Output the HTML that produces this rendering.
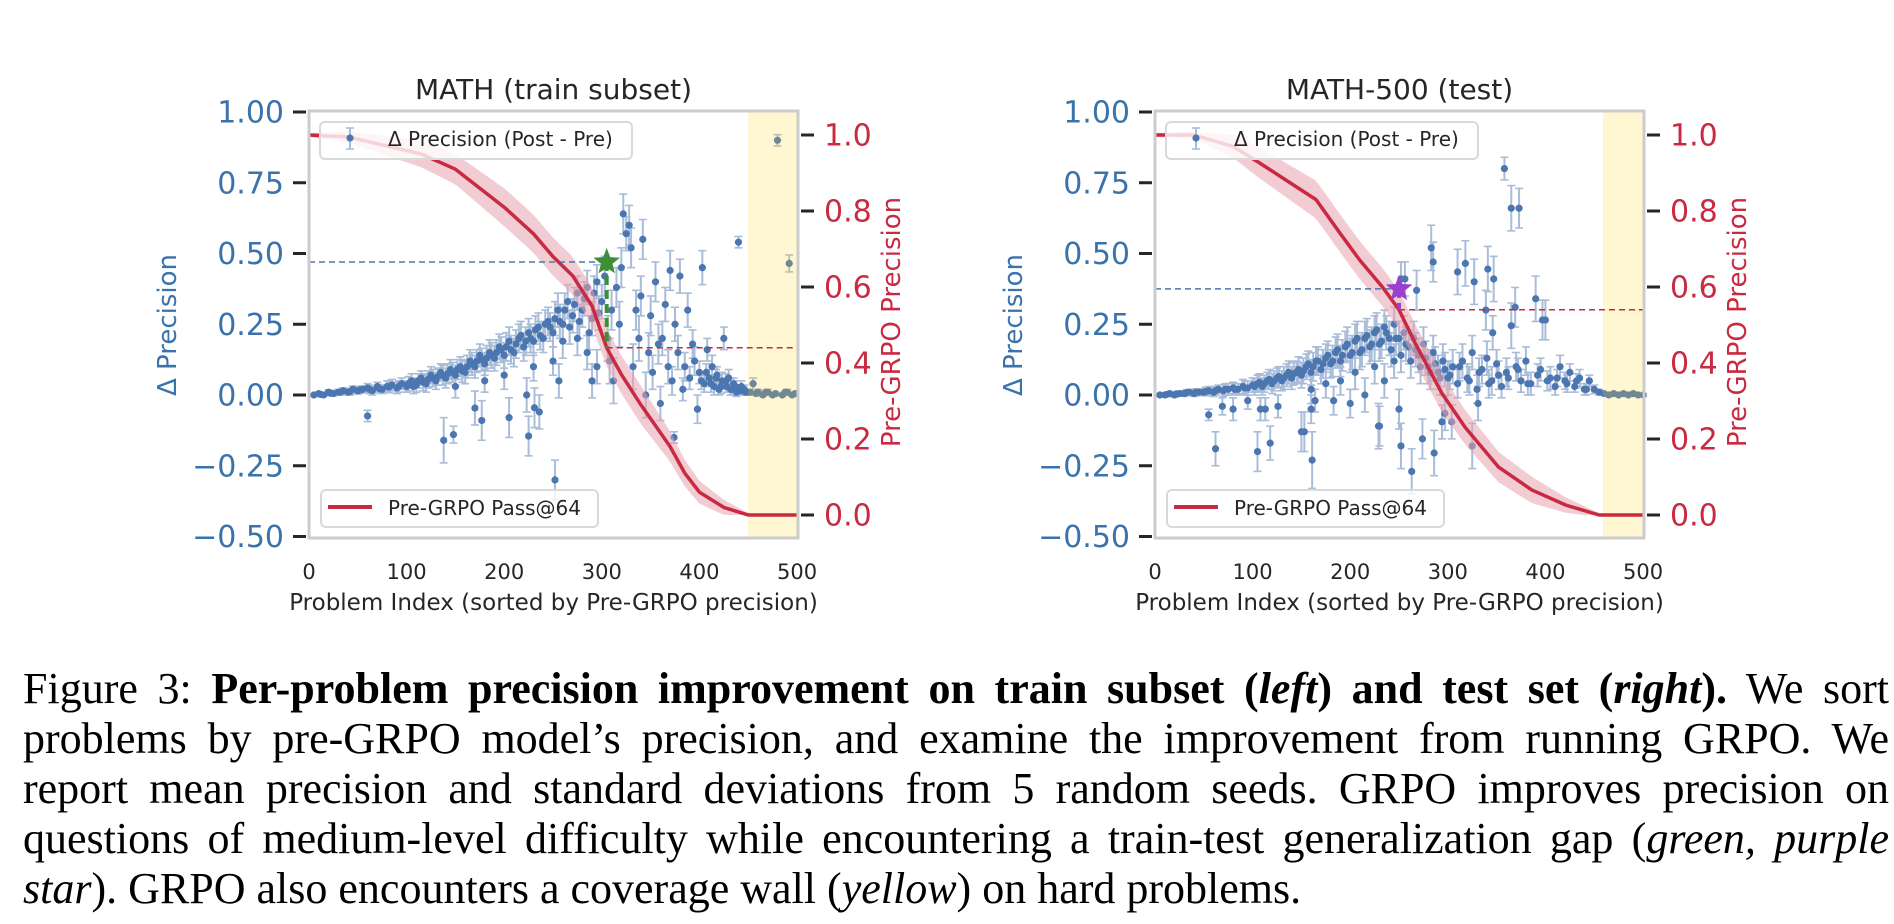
<!DOCTYPE html>
<html><head><meta charset="utf-8">
<style>
html,body{margin:0;padding:0;background:#fff;}
#wrap{position:relative;width:1894px;height:924px;overflow:hidden;background:#fff;}
svg text{font-family:"DejaVu Sans","Liberation Sans",sans-serif;}
.cap{position:absolute;left:23px;width:1866px;font-family:"Liberation Serif",serif;font-size:44px;line-height:50px;color:#000;text-align:justify;text-align-last:justify;white-space:nowrap;}
.cap.last{text-align-last:left;}
</style></head><body>
<div id="wrap">
<svg id="svg" width="1894" height="660" viewBox="0 0 1894 660" style="position:absolute;left:0;top:0"></svg>
<div class="cap" style="top:664px">Figure 3: <b>Per-problem precision improvement on train subset (<i>left</i>) and test set (<i>right</i>).</b> We sort</div>
<div class="cap" style="top:714px">problems by pre-GRPO model’s precision, and examine the improvement from running GRPO. We</div>
<div class="cap" style="top:764px">report mean precision and standard deviations from 5 random seeds. GRPO improves precision on</div>
<div class="cap" style="top:814px">questions of medium-level difficulty while encountering a train-test generalization gap (<i>green, purple</i></div>
<div class="cap last" style="top:864px"><i>star</i>). GRPO also encounters a coverage wall (<i>yellow</i>) on hard problems.</div>
</div>
<script>
// ---------- data: left (train) ----------
const trainIdx = [5,10,15,20,25,30,35,40,45,50,55,60,65,70,75,80,85,90,95,100,
105,110,115,120,125,130,135,140,145,150,155,160,165,170,175,180,185,190,195,200,
205,210,215,220,225,230,235,240,245,250,255,260,265,270,275,280,285,290,295,300,
150,180,200,230,250,260,275,285,295,290,
60,138,148,170,177,205,223,225,231,236,252,256,
303,306,308,310,312,315,318,320,322,325,328,330,332,335,338,340,342,345,348,350,352,355,358,360,
362,365,368,370,372,375,378,380,383,385,388,390,393,395,398,400,403,405,408,410,413,415,418,420,423,425,428,430,433,435,438,440,443,446,449,374,
455,460,465,470,475,480,485,490,492,495,452,458,468,478,488,498,
102,107,112,117,122,127,132,137,142,147,152,157,162,167,172,177,182,187,192,197,
202,207,212,217,222,227,232,237,242,247,252,257,262,267,272,277,282,287,292,297,
12,22,32,42,52,62,72,82,92,
402,407,412,417,422,427,432,437,442,447];
const trainVal = [0,0.005,0,0.01,0.005,0.01,0.015,0.01,0.02,0.015,0.02,0.025,0.015,0.03,0.02,0.03,0.035,0.025,0.04,0.03,
0.05,0.035,0.06,0.04,0.07,0.05,0.08,0.06,0.09,0.07,0.1,0.08,0.12,0.1,0.14,0.11,0.15,0.13,0.17,0.14,
0.19,0.15,0.2,0.17,0.22,0.19,0.24,0.2,0.26,0.22,0.3,0.25,0.33,0.28,0.36,0.3,0.38,0.27,0.4,0.33,
0.03,0.05,0.07,0.1,0.12,0.19,0.2,0.15,0.1,0.05,
-0.074,-0.16,-0.14,-0.046,-0.09,-0.08,0,-0.145,-0.045,-0.06,-0.3,0.05,
0.42,0.2,0.12,0.3,0.05,0.38,0.25,0.45,0.64,0.57,0.6,0.52,0.1,0.3,0.2,0.35,0.55,0,0.15,0.28,0.08,0.4,0.18,-0.03,
0.2,0.32,0.1,0.44,0.05,0.25,0.15,0.42,0.02,0.1,0.3,0.06,0.18,0.12,-0.05,0.08,0.45,0.04,0.16,0.06,0.1,0.03,0.07,0.02,0.05,0.2,0.03,0.06,0.02,0.04,0.01,0.54,0.03,0.02,0.01,-0.15,
0.04,0.01,0,0.01,0,0.9,0,0.01,0.465,0,0.01,0.005,0.01,0.005,0.01,0.005,
0.04,0.03,0.05,0.045,0.055,0.06,0.065,0.07,0.075,0.08,0.09,0.085,0.1,0.11,0.12,0.125,0.13,0.14,0.15,0.16,
0.17,0.16,0.18,0.21,0.19,0.2,0.23,0.21,0.25,0.24,0.27,0.26,0.3,0.24,0.32,0.26,0.34,0.22,0.36,0.29,
0.002,0.006,0.01,0.012,0.018,0.02,0.022,0.028,0.03,
0.05,0.08,0.04,0.06,0.03,0.05,0.02,0.03,0.015,0.01];
const trainErr = [0.005,0.005,0.005,0.008,0.008,0.01,0.01,0.01,0.012,0.012,0.012,0.015,0.015,0.015,0.015,0.02,0.02,0.02,0.02,0.02,
0.025,0.025,0.025,0.03,0.03,0.03,0.03,0.035,0.035,0.035,0.035,0.04,0.04,0.04,0.04,0.04,0.045,0.045,0.045,0.045,
0.05,0.05,0.05,0.05,0.05,0.05,0.05,0.05,0.05,0.05,0.06,0.06,0.06,0.06,0.06,0.06,0.06,0.06,0.06,0.06,
0.04,0.04,0.05,0.05,0.05,0.06,0.06,0.06,0.06,0.06,
0.02,0.08,0.03,0.06,0.07,0.07,0.06,0.07,0.07,0.06,0.07,0.06,
0.07,0.08,0.08,0.07,0.08,0.07,0.08,0.07,0.07,0.06,0.07,0.07,0.08,0.07,0.08,0.07,0.07,0.08,0.07,0.07,0.06,0.07,0.07,0.06,
0.06,0.06,0.06,0.07,0.05,0.06,0.06,0.06,0.04,0.05,0.06,0.04,0.05,0.05,0.05,0.04,0.06,0.03,0.04,0.03,0.04,0.03,0.03,0.02,0.03,0.04,0.02,0.03,0.02,0.02,0.015,0.02,0.02,0.015,0.01,0.02,
0.02,0.01,0.005,0.01,0.005,0.02,0.005,0.01,0.03,0.005,0.01,0.005,0.005,0.005,0.005,0.005,
0.025,0.025,0.025,0.03,0.03,0.03,0.03,0.035,0.035,0.035,0.035,0.04,0.04,0.04,0.04,0.04,0.045,0.045,0.045,0.045,
0.05,0.05,0.05,0.05,0.05,0.05,0.05,0.05,0.05,0.05,0.06,0.06,0.06,0.06,0.06,0.06,0.06,0.06,0.06,0.06,
0.005,0.008,0.01,0.012,0.012,0.015,0.015,0.02,0.02,
0.03,0.03,0.03,0.03,0.025,0.025,0.02,0.02,0.015,0.01];
const trainCurveIdx = [0,40,115,150,175,200,230,250,270,290,305,320,340,370,385,400,425,450,500];
const trainCurveVal = [1.0,0.995,0.95,0.91,0.86,0.81,0.74,0.68,0.63,0.55,0.44,0.37,0.29,0.18,0.11,0.06,0.02,0.0,0.0];
const trainCurveStd = [0.005,0.015,0.035,0.04,0.045,0.05,0.05,0.05,0.05,0.05,0.05,0.05,0.05,0.04,0.035,0.03,0.02,0.005,0];
const trainStar = [305, 0.47];
const trainWall = 450;

// ---------- data: right (test) ----------
const testIdx = [5,10,15,20,25,30,35,40,45,50,55,60,65,70,75,80,85,90,95,100,
105,110,115,120,125,130,135,140,145,150,155,160,165,170,175,180,185,190,195,200,
205,210,215,220,225,230,235,240,245,250,255,260,265,270,275,280,285,290,295,300,
160,175,190,205,215,225,235,245,
55,62,69,80,95,108,113,118,105,126,153,160,164,183,200,230,161,150,229,252,263,274,286,250,325,294,304,297,331,
283,285,310,318,327,341,347,365,369,390,397,400,365,339,346,252,256,268,358,373,
305,310,315,320,325,330,335,340,345,350,355,360,370,375,380,385,395,405,410,415,420,425,430,435,440,445,450,455,
460,465,470,475,480,485,490,495,500,
102,107,112,117,122,127,132,137,142,147,152,157,162,167,172,177,182,187,192,197,
202,207,212,217,222,227,232,237,242,247,252,257,262,267,272,277,282,287,292,297,
302,312,322,332,342,352,362,372,382,392,402,412,422,432,442,
12,22,32,42,52,62,72,82,92];
const testVal = [0,0,0.005,0,0.005,0.005,0.01,0.005,0.01,0.01,0.015,0.01,0.02,0.015,0.02,0.025,0.02,0.03,0.025,0.035,
0.04,0.03,0.05,0.04,0.06,0.05,0.07,0.06,0.08,0.07,0.1,0.08,0.12,0.09,0.13,0.11,0.15,0.12,0.17,0.14,
0.19,0.15,0.2,0.17,0.22,0.18,0.24,0.2,0.25,0.2,0.22,0.17,0.2,0.14,0.18,0.1,0.15,0.08,0.12,0.06,
0.02,0.04,0.05,0.08,0.0,0.1,0.05,0.12,
-0.07,-0.19,-0.04,-0.05,-0.02,-0.05,-0.05,-0.17,-0.2,-0.04,-0.13,-0.05,-0.02,-0.02,-0.03,-0.11,-0.23,-0.13,-0.11,-0.18,-0.27,-0.155,-0.205,-0.05,-0.18,-0.095,-0.095,-0.065,-0.03,
0.52,0.47,0.435,0.465,0.4,0.445,0.41,0.66,0.31,0.34,0.265,0.265,0.245,0.3,0.22,0.41,0.41,0.37,0.8,0.66,
0.1,0.04,0.12,0.06,0.15,0.02,0.09,0.13,0.05,0.11,0.03,0.08,0.1,0.05,0.12,0.04,0.09,0.06,0.03,0.1,0.05,0.08,0.03,0.06,0.02,0.05,0.02,0.01,
0.005,0,0.005,0,0.005,0,0.005,0,0,
0.03,0.045,0.04,0.055,0.05,0.065,0.06,0.08,0.075,0.09,0.085,0.11,0.1,0.12,0.11,0.14,0.12,0.16,0.14,0.18,
0.15,0.2,0.16,0.21,0.18,0.23,0.19,0.22,0.16,0.2,0.14,0.18,0.12,0.16,0.1,0.13,0.08,0.11,0.06,0.09,
0.07,0.1,0.05,0.08,0.04,0.07,0.06,0.09,0.04,0.07,0.05,0.06,0.04,0.05,0.02,
0.002,0.004,0.008,0.01,0.012,0.015,0.02,0.02,0.025];
const testErr = [0.005,0.005,0.005,0.008,0.008,0.01,0.01,0.01,0.012,0.012,0.015,0.015,0.015,0.02,0.02,0.02,0.02,0.025,0.025,0.025,
0.03,0.03,0.03,0.035,0.035,0.035,0.04,0.04,0.04,0.045,0.045,0.045,0.05,0.05,0.05,0.05,0.055,0.055,0.055,0.06,
0.06,0.06,0.06,0.06,0.06,0.06,0.06,0.06,0.06,0.06,0.06,0.06,0.06,0.06,0.06,0.06,0.06,0.06,0.06,0.06,
0.05,0.05,0.05,0.06,0.06,0.06,0.06,0.06,
0.02,0.06,0.03,0.04,0.03,0.04,0.04,0.06,0.07,0.04,0.07,0.05,0.04,0.05,0.05,0.07,0.1,0.07,0.08,0.08,0.08,0.07,0.08,0.07,0.08,0.06,0.06,0.06,0.06,
0.08,0.07,0.08,0.08,0.08,0.08,0.08,0.08,0.07,0.08,0.07,0.07,0.08,0.07,0.06,0.06,0.06,0.07,0.04,0.07,
0.06,0.05,0.06,0.05,0.06,0.05,0.05,0.06,0.05,0.05,0.04,0.05,0.05,0.04,0.05,0.04,0.04,0.04,0.03,0.04,0.03,0.03,0.02,0.03,0.02,0.02,0.015,0.01,
0.005,0.005,0.005,0.005,0.005,0.005,0.005,0.005,0.005,
0.03,0.03,0.03,0.035,0.035,0.035,0.04,0.04,0.04,0.045,0.045,0.045,0.05,0.05,0.05,0.05,0.055,0.055,0.055,0.06,
0.06,0.06,0.06,0.06,0.06,0.06,0.06,0.06,0.06,0.06,0.06,0.06,0.06,0.06,0.06,0.06,0.06,0.06,0.06,0.06,
0.05,0.05,0.05,0.05,0.05,0.05,0.04,0.04,0.04,0.04,0.035,0.03,0.03,0.025,0.02,
0.005,0.008,0.01,0.012,0.015,0.015,0.02,0.02,0.025];
const testCurveIdx = [0,40,80,105,135,165,190,210,233,250,267,294,318,352,386,421,455,500];
const testCurveVal = [1.0,1.0,0.97,0.93,0.88,0.83,0.74,0.67,0.6,0.54,0.45,0.32,0.23,0.126,0.066,0.026,0.0,0.0];
const testCurveStd = [0.005,0.01,0.03,0.04,0.045,0.05,0.05,0.05,0.05,0.05,0.05,0.05,0.045,0.04,0.035,0.02,0.005,0];
const testStar = [250, 0.375];
const testWall = 459;

const leftTicks = [1.0,0.75,0.5,0.25,0.0,-0.25,-0.5];
const leftTickLabels = ["1.00","0.75","0.50","0.25","0.00","\u22120.25","\u22120.50"];
const rightTicks = [1.0,0.8,0.6,0.4,0.2,0.0];
const rightTickLabels = ["1.0","0.8","0.6","0.4","0.2","0.0"];
const xTicks = [0,100,200,300,400,500];

// ---------- drawing ----------
const NS="http://www.w3.org/2000/svg";
const svg=document.getElementById('svg');
function mk(tag,attrs,parent){const e=document.createElementNS(NS,tag);for(const k in attrs)e.setAttribute(k,attrs[k]);(parent||svg).appendChild(e);return e;}
function interp(xs,ys,x){for(let k=0;k<xs.length-1;k++){if(x>=xs[k]&&x<=xs[k+1]){const t=(x-xs[k])/(xs[k+1]-xs[k]);return ys[k]+t*(ys[k+1]-ys[k]);}}return ys[ys.length-1];}

const BLUE="#4c76b0", ERR="#a9bcd8", RED="#c92a41", PINK="#e7a3af";
const TOP=111, BOT=538, W=489;

function drawChart(o){
  const g=mk('g',{});
  
  
  const x0=o.x0;
  const xs=i=>x0+i*W/501;
  const yl=v=>395-v*283;
  const yr=p=>515-p*380;
  const t=mk('text',{x:x0+W/2,y:99,'text-anchor':'middle','font-size':28,fill:'#262626'},g);t.textContent=o.title;
  
  const pg=mk('g',{},g);
  
  
  for(let k=0;k<o.idx.length;k++){
    const x=xs(o.idx[k]), y=yl(o.val[k]), e=o.err[k]*283;
    mk('line',{x1:x,x2:x,y1:y-e,y2:y+e,stroke:ERR,'stroke-width':2},pg);
    mk('line',{x1:x-4,x2:x+4,y1:y-e,y2:y-e,stroke:ERR,'stroke-width':1.6},pg);
    mk('line',{x1:x-4,x2:x+4,y1:y+e,y2:y+e,stroke:ERR,'stroke-width':1.6},pg);
  }
  for(let k=0;k<o.idx.length;k++){
    const c=mk('circle',{cx:xs(o.idx[k]),cy:yl(o.val[k]),r:3.6,fill:BLUE},pg);
    
    
  }
  const wall=mk('rect',{x:xs(o.wall),y:TOP,width:x0+W-xs(o.wall),height:BOT-TOP,fill:'#ffd21f','fill-opacity':0.2},g);
  
  
  let up=[],dn=[];
  for(let i=0;i<=500;i+=4){const p=interp(o.ci,o.cv,i),s=interp(o.ci,o.cs,i);up.push(xs(i)+','+yr(p+s));dn.unshift(xs(i)+','+yr(Math.max(p-s,0)));}
  const band=mk('polygon',{points:up.concat(dn).join(' '),fill:PINK,'fill-opacity':0.55},g);
  
  
  let pts=[];for(let k=0;k<o.ci.length;k++)pts.push(xs(o.ci[k])+','+yr(o.cv[k]));
  const rl=mk('polyline',{points:pts.join(' '),fill:'none',stroke:RED,'stroke-width':3.5,'stroke-linejoin':'round'},g);
  
  
  const sx=xs(o.star[0]), sy=yl(o.star[1]);
  const pStar=interp(o.ci,o.cv,o.star[0]);
  const ry=yr(pStar);
  const bd=mk('line',{x1:x0,x2:sx,y1:sy,y2:sy,stroke:'#4c76b0','stroke-width':1.5,'stroke-dasharray':'6,4'},g);
  
  const rd=mk('line',{x1:sx,x2:x0+W,y1:ry,y2:ry,stroke:RED,'stroke-width':1.5,'stroke-dasharray':'6,4'},g);
  
  const vd=mk('line',{x1:sx,x2:sx,y1:sy,y2:ry,stroke:o.starColor,'stroke-width':4,'stroke-dasharray':'9,5'},g);
  
  let sp=[];for(let k=0;k<10;k++){const r=k%2?6:14,a=-Math.PI/2+k*Math.PI/5;sp.push((sx+r*Math.cos(a)).toFixed(1)+','+(sy+r*Math.sin(a)).toFixed(1));}
  const st=mk('polygon',{points:sp.join(' '),fill:o.starColor},g);
  
  const fr=mk('rect',{x:x0,y:TOP,width:W,height:BOT-TOP,fill:'none',stroke:'#cccccc','stroke-width':3},g);
  
  for(let k=0;k<leftTicks.length;k++){
    const y=yl(leftTicks[k]);
    mk('line',{x1:x0-16,x2:x0-3,y1:y,y2:y,stroke:'#262626','stroke-width':3},g);
    const tl=mk('text',{x:x0-25,y:y+10.5,'text-anchor':'end','font-size':30,fill:'#3a73ab'},g);tl.textContent=leftTickLabels[k];
    
  }
  for(let k=0;k<rightTicks.length;k++){
    const y=yr(rightTicks[k]);
    mk('line',{x1:x0+W+3,x2:x0+W+16,y1:y,y2:y,stroke:'#262626','stroke-width':3},g);
    const tl=mk('text',{x:x0+W+26,y:y+10.5,'font-size':30,fill:RED},g);tl.textContent=rightTickLabels[k];
    
  }
  for(let k=0;k<xTicks.length;k++){
    const tl=mk('text',{x:xs(xTicks[k]),y:579,'text-anchor':'middle','font-size':21,fill:'#262626'},g);tl.textContent=xTicks[k];
    
  }
  const xl=mk('text',{x:x0+W/2,y:610,'text-anchor':'middle','font-size':23,fill:'#262626'},g);xl.textContent='Problem Index (sorted by Pre-GRPO precision)';
  
  const yt=mk('text',{x:0,y:0,'text-anchor':'middle','font-size':26,fill:'#3a73ab',transform:'translate('+(x0-142+9)+',325) rotate(-90)'},g);yt.textContent='\u0394 Precision';
  
  const yt2=mk('text',{x:0,y:0,'text-anchor':'middle','font-size':26,fill:RED,transform:'translate('+(x0+W+93+9)+',322) rotate(-90)'},g);yt2.textContent='Pre-GRPO Precision';
  
  const l1=mk('g',{},g);
  mk('rect',{x:x0+11,y:122,width:312,height:37,rx:5,fill:'#fff','fill-opacity':0.8,stroke:'#d9d9d9','stroke-width':2},l1);
  mk('line',{x1:x0+41,x2:x0+41,y1:128,y2:149,stroke:ERR,'stroke-width':2},l1);
  mk('line',{x1:x0+37,x2:x0+45,y1:128,y2:128,stroke:ERR,'stroke-width':1.6},l1);
  mk('line',{x1:x0+37,x2:x0+45,y1:149,y2:149,stroke:ERR,'stroke-width':1.6},l1);
  mk('circle',{cx:x0+41,cy:138,r:3.6,fill:BLUE},l1);
  const lt1=mk('text',{x:x0+79,y:146,'font-size':20,fill:'#262626'},l1);lt1.textContent='\u0394 Precision (Post - Pre)';
  const l2=mk('g',{},g);
  mk('rect',{x:x0+12,y:490,width:277,height:37,rx:5,fill:'#fff','fill-opacity':0.8,stroke:'#d9d9d9','stroke-width':2},l2);
  mk('line',{x1:x0+19,x2:x0+63,y1:507,y2:507,stroke:RED,'stroke-width':4},l2);
  const lt2=mk('text',{x:x0+79,y:515,'font-size':20,fill:'#262626'},l2);lt2.textContent='Pre-GRPO Pass@64';
}

drawChart({name:'train-chart',title:'MATH (train subset)',x0:309,idx:trainIdx,val:trainVal,err:trainErr,ci:trainCurveIdx,cv:trainCurveVal,cs:trainCurveStd,star:trainStar,wall:trainWall,starColor:'#3d8f35'});
drawChart({name:'test-chart',title:'MATH-500 (test)',x0:1155,idx:testIdx,val:testVal,err:testErr,ci:testCurveIdx,cv:testCurveVal,cs:testCurveStd,star:testStar,wall:testWall,starColor:'#9b3fcf'});
</script>
</body></html>
